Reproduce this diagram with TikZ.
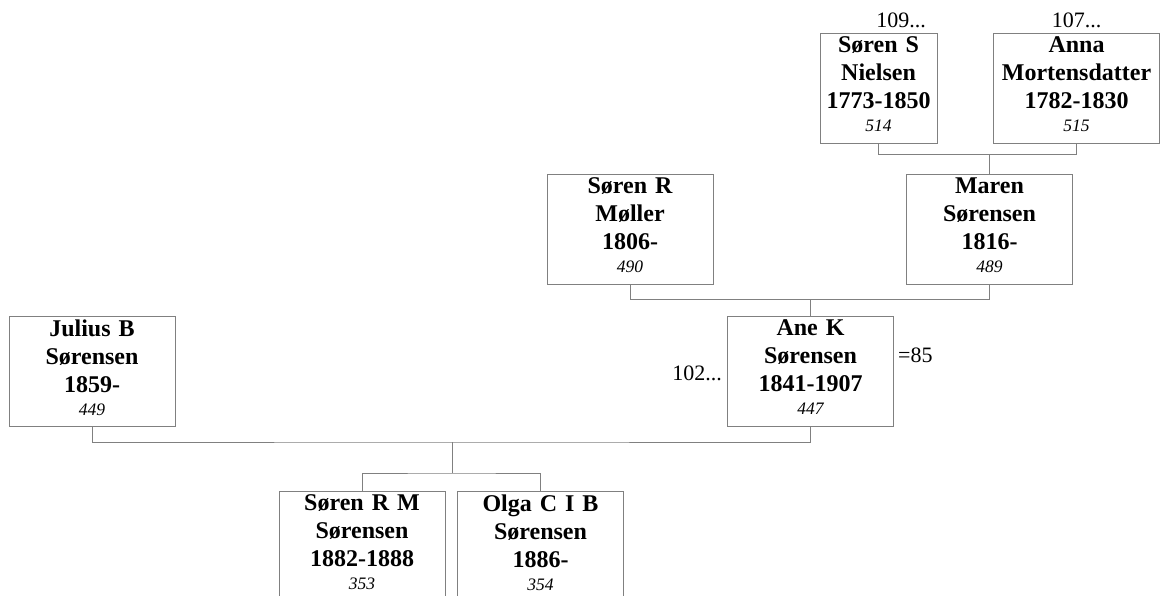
\documentclass[tikz,border=0pt]{standalone}
\usepackage{fontspec}
\setmainfont{Liberation Serif}
\usepackage{tikz}

\newcommand{\namefont}{\fontsize{24}{28}\selectfont\bfseries}
\newcommand{\idno}[1]{{\fontsize{17.5}{20}\selectfont\mdseries\itshape #1\unskip\rule[-7pt]{0pt}{7pt}}}

\begin{document}
\begin{tikzpicture}[x=1pt, y=-1pt,
	person/.style={draw=black!50, line width=0.8pt, inner sep=0pt, minimum height=110pt, text width=#1, align=center, font=\namefont},
	person/.default=166pt,
	link/.style={draw=black!50, line width=0.8pt},
	tag/.style={font=\fontsize{22}{26}\selectfont, inner sep=0pt}]
	\useasboundingbox (0,0) rectangle (1166,596);
	\clip (0,0) rectangle (1166,596);
	
	\foreach \id/\x/\y/\w/\first/\last/\years/\num in {
		s1/878.5/88/117pt/Søren S/Nielsen/1773-1850/514,
		s2/1076.5/88/166pt/Anna/Mortensdatter/1782-1830/515,
		m1/630/229/166pt/Søren R/Møller/1806-/490,
		m2/989.5/229/166pt/Maren/Sørensen/1816-/489,
		ane/810.5/371/166pt/Ane K/Sørensen/1841-1907/447,
		julius/92/371/166pt/Julius B/Sørensen/1859-/449,
		c1/362/546/166pt/Søren R M/Sørensen/1882-1888/353,
		c2/540.5/546/166pt/Olga C I B/Sørensen/1886-/354}
	{
		\node [person=\w] (\id) at (\x,\y) {\first\\\last\\\years\\[-5pt]\idno{\num}};
	}
	
	\node [tag, anchor=base] (t109) at (901,28) {109...};
	\node [tag, anchor=base] (t107) at (1076.5,28) {107...};
	\node [tag, anchor=base east] (t102) at (722,380) {102...};
	\node [tag, anchor=base west] (t85) at (898,362) {=85};
	
	\coordinate (j1) at ([yshift=19pt]m2.north);
	\coordinate (j2) at ([yshift=16pt]ane.north);
	\coordinate (j3) at (452,442);
	\coordinate (j4) at (452,473);
	
	\draw [link] (s1.south) |- (j1) -| (s2.south);
	\draw [link] (j1) -- (m2.north);
	\draw [link] (m1.south) |- (j2) -| (m2.south);
	\draw [link] (j2) -- (ane.north);
	\draw [link] (julius.south) |- (j3) -| (ane.south);
	\draw [link] (j3) -- (j4);
	\draw [link] (c1.north) |- (j4) -| (c2.north);
\end{tikzpicture}
\end{document}
